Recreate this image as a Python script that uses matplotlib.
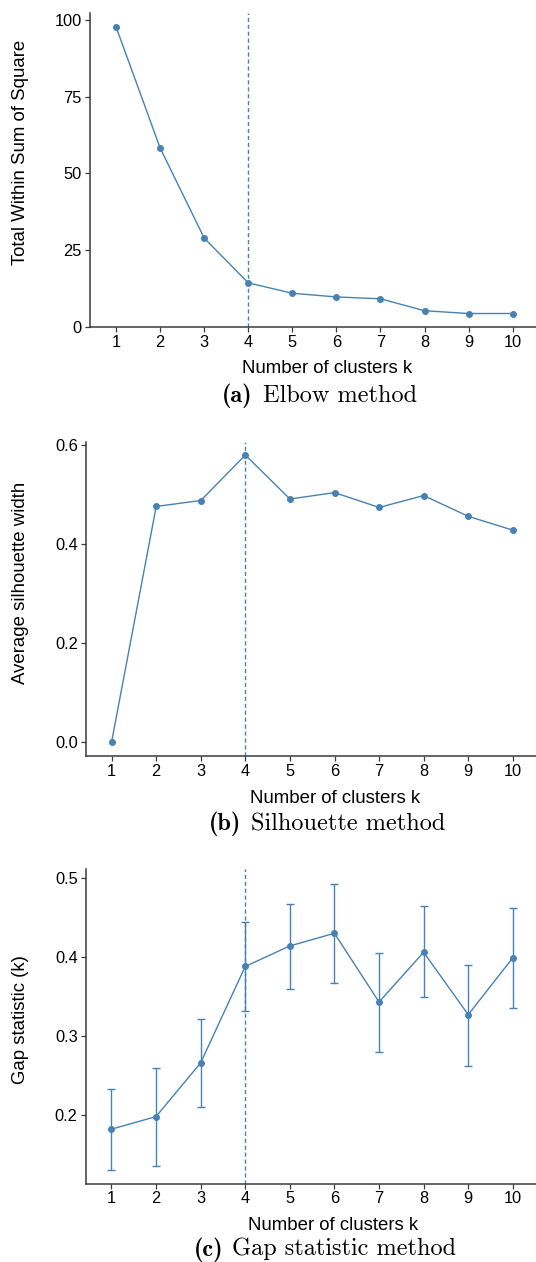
import matplotlib

matplotlib.use("Agg")
import matplotlib.pyplot as plt

# ---------------------------------------------------------------------------
# Data
# ---------------------------------------------------------------------------
k_values = [1, 2, 3, 4, 5, 6, 7, 8, 9, 10]
wss = [97.8, 58.3, 28.9, 14.3, 10.9, 9.7, 9.1, 5.2, 4.3, 4.3]
silhouette = [0.0, 0.476, 0.488, 0.580, 0.491, 0.504, 0.474, 0.498, 0.456, 0.428]
gap = [0.182, 0.198, 0.266, 0.388, 0.414, 0.430, 0.343, 0.406, 0.327, 0.399]
gap_lo = [0.130, 0.136, 0.210, 0.331, 0.360, 0.367, 0.280, 0.349, 0.262, 0.335]
gap_hi = [0.233, 0.260, 0.322, 0.444, 0.467, 0.493, 0.405, 0.464, 0.390, 0.462]
optimal_k = 4

BLUE = "#4682B4"
AXIS_GREY = "#3a3a3a"
W, H = 536, 1262
DPI = 100
LABEL_SIZE = 13.4
TICK_SIZE = 11.8
CAPTION_SIZE = 17.5
TAG_SIZE = 17.5

plt.rcParams["font.family"] = ["Liberation Sans", "DejaVu Sans"]

fig = plt.figure(figsize=(W / DPI, H / DPI), dpi=DPI)


def px_axes(left, top, right, bottom):
    """Axes from a pixel box (origin top-left)."""
    return fig.add_axes([left / W, 1 - bottom / H, (right - left) / W, (bottom - top) / H])


def fig_text(x_px, y_px, s, **kw):
    return fig.text(x_px / W, 1 - y_px / H, s, **kw)


def style(ax):
    for side in ("top", "right"):
        ax.spines[side].set_visible(False)
    for side in ("left", "bottom"):
        ax.spines[side].set_color(AXIS_GREY)
        ax.spines[side].set_linewidth(1.1)
    ax.tick_params(colors=AXIS_GREY, labelcolor="black", labelsize=TICK_SIZE,
                   length=3.6, width=0.9, pad=2)
    ax.set_xticks(k_values)
    ax.axvline(optimal_k, color=BLUE, linestyle=(0, (3, 2)), linewidth=1.0)


def labels(xlab_xy, ylab_xy, ylabel, tag_x, body_x, cap_y, tag, cap_text):
    fig_text(*xlab_xy, "Number of clusters k", fontsize=LABEL_SIZE,
             ha="center", va="baseline")
    fig_text(*ylab_xy, ylabel, fontsize=LABEL_SIZE, rotation=90,
             ha="center", va="center")
    fig_text(tag_x, cap_y, "(%s)" % tag, family="cmb10", fontsize=TAG_SIZE,
             ha="left", va="baseline")
    fig_text(body_x, cap_y, cap_text, family="cmr10", fontsize=CAPTION_SIZE,
             ha="left", va="baseline")


# (a) Elbow
ax1 = px_axes(89.6, 12.7, 536, 327.3)
ax1.plot(k_values, wss, color=BLUE, linewidth=1.0, marker="o", markersize=4)
ax1.set_xlim(0.4, 10.53)
ax1.set_ylim(-0.2, 102.4)
ax1.set_yticks([0, 25, 50, 75, 100])
style(ax1)
labels((326.7, 372.7), (21, 152.5), "Total Within Sum of Square",
       221.5, 262.6, 402.5, "a", "Elbow method")

# (b) Silhouette
ax2 = px_axes(85.7, 441.7, 536, 756)
ax2.plot(k_values, silhouette, color=BLUE, linewidth=1.0, marker="o", markersize=4)
ax2.set_xlim(0.418, 10.52)
ax2.set_ylim(-0.029, 0.607)
ax2.set_yticks([0.0, 0.2, 0.4, 0.6])
ax2.set_yticklabels(["0.0", "0.2", "0.4", "0.6"])
style(ax2)
labels((335, 803.3), (20.5, 583.3), "Average silhouette width",
       208.8, 251.0, 830.5, "b", "Silhouette method")

# (c) Gap statistic
ax3 = px_axes(85.5, 869.3, 536, 1183.7)
err = [[g - lo for g, lo in zip(gap, gap_lo)], [hi - g for g, hi in zip(gap, gap_hi)]]
ax3.errorbar(k_values, gap, yerr=err, color=BLUE, ecolor=BLUE, elinewidth=1.0,
             capsize=3, capthick=1.0, linewidth=1.0, marker="o", markersize=4)
ax3.set_xlim(0.418, 10.52)
ax3.set_ylim(0.113, 0.511)
ax3.set_yticks([0.2, 0.3, 0.4, 0.5])
style(ax3)
labels((333, 1230), (20.5, 1020), "Gap statistic (k)",
       194.2, 232.5, 1255.5, "c", "Gap statistic method")

fig.savefig("out.png", dpi=DPI)
